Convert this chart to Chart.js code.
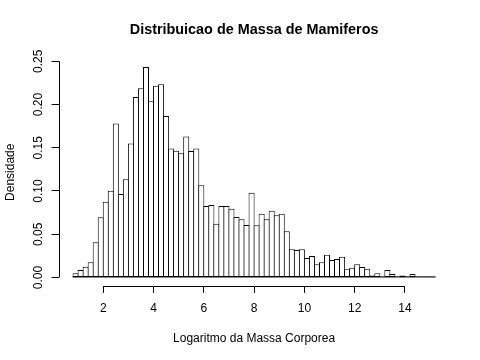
<!DOCTYPE html>
<html>
<head>
<meta charset="utf-8">
<script src="https://cdn.jsdelivr.net/npm/chart.js@4/dist/chart.umd.min.js"></script>
<style>
html,body{margin:0;padding:0;background:#fff;}
canvas{display:block;}
</style>
</head>
<body>
<canvas id="c" width="480" height="360"></canvas>
<script>
// Bin midpoints (bins of width 0.2 from 0.8 to 15.2)
const binMids = [0.9,1.1,1.3,1.5,1.7,1.9,2.1,2.3,2.5,2.7,2.9,3.1,3.3,3.5,3.7,3.9,4.1,4.3,4.5,4.7,
  4.9,5.1,5.3,5.5,5.7,5.9,6.1,6.3,6.5,6.7,6.9,7.1,7.3,7.5,7.7,7.9,8.1,8.3,8.5,8.7,
  8.9,9.1,9.3,9.5,9.7,9.9,10.1,10.3,10.5,10.7,10.9,11.1,11.3,11.5,11.7,11.9,12.1,12.3,12.5,12.7,
  12.9,13.1,13.3,13.5,13.7,13.9,14.1,14.3,14.5,14.7,14.9,15.1];
const density = [0.005,0.0087,0.0125,0.0176,0.0407,0.0696,0.0877,0.1003,0.178,0.0965,
  0.1135,0.155,0.2087,0.2187,0.2434,0.2037,0.2218,0.2234,0.1867,0.149,
  0.1466,0.1436,0.163,0.1462,0.149,0.1066,0.0827,0.0838,0.0622,0.0827,
  0.0827,0.0796,0.070,0.0673,0.0607,0.098,0.0603,0.0738,0.0673,0.0772,
  0.0719,0.0738,0.0534,0.0326,0.0318,0.0326,0.0225,0.0249,0.0153,0.0176,
  0.0264,0.0202,0.0214,0.024,0.0095,0.0113,0.0153,0.012,0.010,0.0023,
  0.005,0.0012,0.0087,0.004,0.0012,0.0023,0.0012,0.004,0.0012,0.0012,
  0.0012,0.0012];
const xTicks = [2,4,6,8,10,12,14];
const yTicks = [0,0.05,0.10,0.15,0.20,0.25];
const titleText = 'Distribuicao de Massa de Mamiferos';
const xLabel = 'Logaritmo da Massa Corporea';
const yLabel = 'Densidade';

Chart.defaults.font.family = "'Liberation Sans', Arial, Helvetica, sans-serif";
Chart.defaults.color = '#000';

const axisLines = {
  id: 'axisLines',
  afterDatasetsDraw(chart) {
    // baseline under the histogram, spanning the drawn bars
    const {ctx, scales: {y}} = chart;
    const bars = chart.getDatasetMeta(0).data;
    if (!bars.length) return;
    const first = bars[0], last = bars[bars.length - 1];
    const y0 = y.getPixelForValue(0);
    ctx.save();
    ctx.strokeStyle = '#000';
    ctx.lineWidth = 1;
    ctx.beginPath();
    ctx.moveTo(first.x - first.width / 2, y0 - 0.5);
    ctx.lineTo(last.x + last.width / 2, y0 - 0.5);
    ctx.stroke();
    ctx.restore();
  },
  afterDraw(chart) {
    const {ctx, scales: {x, y}, chartArea} = chart;
    ctx.save();
    ctx.strokeStyle = '#000';
    ctx.lineWidth = 1;
    ctx.beginPath();
    const xl = Math.round(chartArea.left) + 0.5;
    ctx.moveTo(xl, y.getPixelForValue(yTicks[0]));
    ctx.lineTo(xl, y.getPixelForValue(yTicks[yTicks.length-1]));
    const yb = Math.round(chartArea.bottom) + 0.5;
    ctx.moveTo(x.getPixelForValue(xTicks[0]), yb);
    ctx.lineTo(x.getPixelForValue(xTicks[xTicks.length-1]), yb);
    ctx.stroke();
    ctx.restore();
  }
};

new Chart(document.getElementById('c'), {
  type: 'bar',
  data: {
    datasets: [{
      data: binMids.map((m, i) => ({x: m, y: density[i]})),
      backgroundColor: '#ffffff',
      borderColor: '#000000',
      borderWidth: 1,
      borderSkipped: false,
      barPercentage: 1.2,
      categoryPercentage: 1.0
    }]
  },
  options: {
    responsive: false,
    animation: false,
    layout: {padding: {left: 0, right: 30.4, top: 0, bottom: 0}},
    plugins: {
      legend: {display: false},
      tooltip: {enabled: false},
      title: {
        display: true,
        text: titleText,
        fullSize: false,
        font: {size: 14.4, weight: 'bold'},
        color: '#000',
        padding: {top: 21.7, bottom: 19.6}
      }
    },
    scales: {
      x: {
        type: 'linear',
        min: 0.224,
        max: 15.776,
        offset: false,
        afterBuildTicks: s => { s.ticks = xTicks.map(v => ({value: v})); },
        afterFit: s => { s.height = 74.1; },
        grid: {offset: false, drawOnChartArea: false, drawTicks: true, tickLength: 7, color: '#000'},
        border: {display: false},
        ticks: {font: {size: 12}, color: '#000', padding: 9, autoSkip: false, maxRotation: 0,
          callback: v => String(v)},
        title: {display: true, text: xLabel, font: {size: 12}, color: '#000', padding: {top: 0, bottom: 13.8}}
      },
      y: {
        min: -0.00974,
        max: 0.2531,
        afterBuildTicks: s => { s.ticks = yTicks.map(v => ({value: v})); },
        afterFit: s => { s.width = 58.6; },
        grid: {offset: false, drawOnChartArea: false, drawTicks: true, tickLength: 7, color: '#000'},
        border: {display: false},
        ticks: {font: {size: 12}, color: '#000', padding: 1, minRotation: 90, maxRotation: 90,
          crossAlign: 'center', autoSkip: false, callback: v => Number(v).toFixed(2)},
        title: {display: true, text: yLabel, font: {size: 12}, color: '#000', padding: {top: 3, bottom: 0}}
      }
    }
  },
  plugins: [axisLines]
});
</script>
</body>
</html>
